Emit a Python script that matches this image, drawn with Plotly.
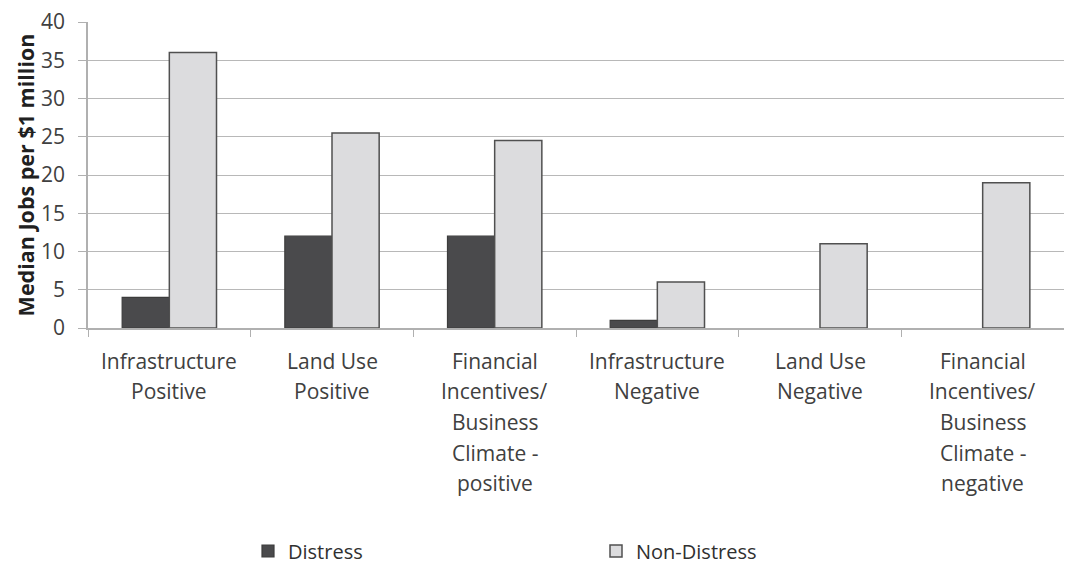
import plotly.graph_objects as go

categories = [
    "Infrastructure Positive",
    "Land Use Positive",
    "Financial Incentives/Business Climate - positive",
    "Infrastructure Negative",
    "Land Use Negative",
    "Financial Incentives/Business Climate - negative",
]
category_labels = [
    ["Infrastructure", "Positive"],
    ["Land Use", "Positive"],
    ["Financial", "Incentives/", "Business", "Climate -", "positive"],
    ["Infrastructure", "Negative"],
    ["Land Use", "Negative"],
    ["Financial", "Incentives/", "Business", "Climate -", "negative"],
]
distress = [4, 12, 12, 1, 0, 0]
non_distress = [36, 25.5, 24.5, 6, 11, 19]
y_ticks = [0, 5, 10, 15, 20, 25, 30, 35, 40]

# layout geometry (pixels); the page body adds an 8px offset
OFF = 8
W, H = 1072 - OFF, 565 - OFF
ML, MR, MT = 88 - OFF, 8, 22 - OFF
PLOT_BOTTOM = 328 - OFF
MB = H - PLOT_BOTTOM
PH = PLOT_BOTTOM - MT
LABEL_TOP = 360.5 - OFF   # centre of first label line
LINE_STEP = 30.7
LEGEND_Y = 551 - OFF

fig = go.Figure()
fig.add_trace(go.Bar(
    x=categories, y=distress, name="Distress",
    marker=dict(color="#4a4a4c",
                line=dict(color="#3c3c3c", width=[1.2 if v > 0 else 0 for v in distress]))))
fig.add_trace(go.Bar(
    x=categories, y=non_distress, name="Non-Distress",
    marker=dict(color="#dcdcde",
                line=dict(color="#505050", width=[1.5 if v > 0 else 0 for v in non_distress]))))

font = "Open Sans, Liberation Sans, sans-serif"
annotations = []
for cat, lines in zip(categories, category_labels):
    for i, line in enumerate(lines):
        py = LABEL_TOP + i * LINE_STEP
        annotations.append(dict(
            x=cat, xref="x", y=(PLOT_BOTTOM - py) / PH, yref="paper",
            text=line, showarrow=False, xanchor="center", yanchor="middle",
            font=dict(family=font, size=21, color="#404040")))

fig.update_layout(
    width=W, height=H,
    margin=dict(l=ML, r=MR, t=MT, b=MB, autoexpand=False),
    paper_bgcolor="white", plot_bgcolor="white",
    barmode="group", bargap=0.42, bargroupgap=0,
    font=dict(family=font, color="#404040", size=21),
    legend=dict(orientation="h", x=(248 - 88) / 976, y=(PLOT_BOTTOM - LEGEND_Y) / PH,
                xanchor="left", yanchor="middle",
                entrywidth=303, entrywidthmode="pixels",
                font=dict(size=20, color="#303030")),
    showlegend=True,
    annotations=annotations,
)
fig.update_xaxes(
    type="category", tickson="boundaries", ticks="outside", ticklen=7,
    tickcolor="#b0b0b0", showline=True, linecolor="#b0b0b0", linewidth=1.5,
    showgrid=False, showticklabels=False, automargin=False,
)
fig.update_yaxes(
    range=[0, 40], tickvals=y_ticks, ticks="outside", ticklen=8, tickcolor="#b0b0b0",
    showline=True, linecolor="#b0b0b0", linewidth=1.5,
    showgrid=True, gridcolor="#b8b8b8", gridwidth=1.2,
    ticklabelstandoff=9, ticklabeloverflow="allow", automargin=False,
    tickfont=dict(size=21, color="#404040"),
    title=dict(text="<b>Median Jobs per $1 million</b>", font=dict(size=21.5, color="#202020"), standoff=1),
)
fig.write_html("out.html")
